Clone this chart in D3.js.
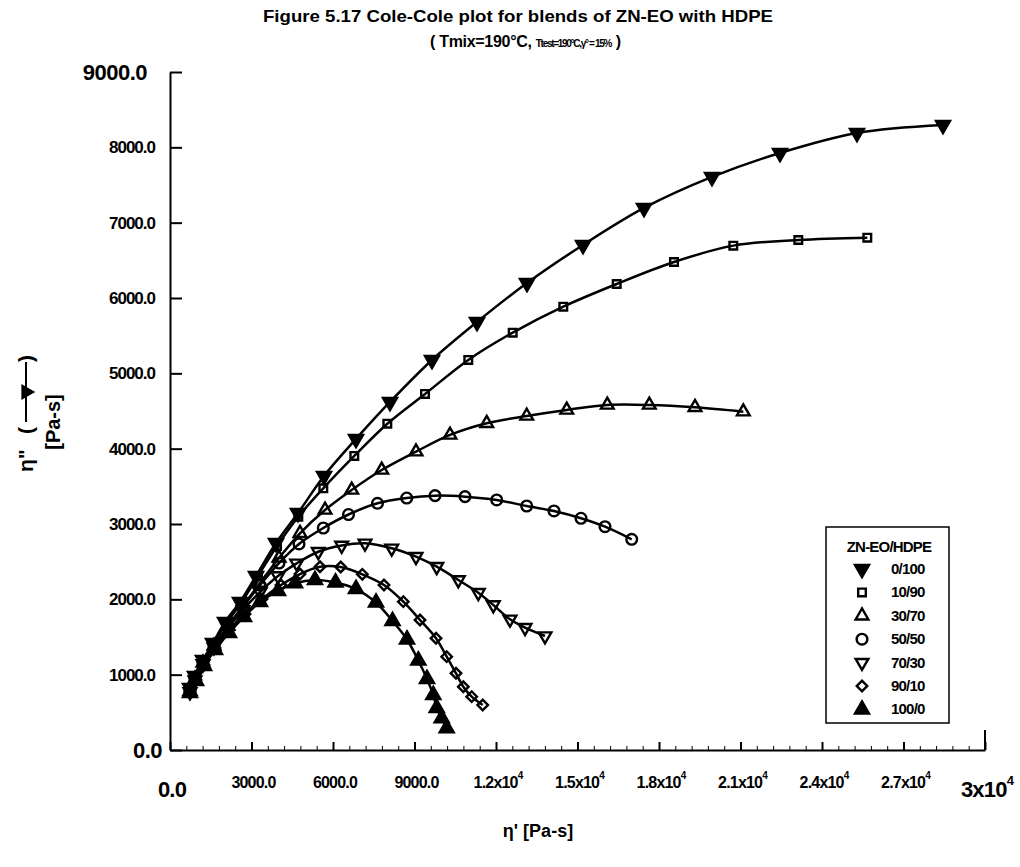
<!DOCTYPE html>
<html><head><meta charset="utf-8">
<script src="https://cdn.jsdelivr.net/npm/d3@7"></script>
<style>
body{margin:0;background:#fff;}
text{font-family:"Liberation Sans",Arial,sans-serif;fill:#000;}
</style></head>
<body>
<svg id="chart" width="1020" height="867"></svg>
<script>
// ---- data (η' [Pa-s], η" [Pa-s]) ----
const seriesNames = ["0/100","10/90","30/70","50/50","70/30","90/10","100/0"];
const s0_100 = [[736,823],[920,982],[1215,1195],[1583,1421],[2025,1699],[2577,1965],[3166,2310],[3902,2748],[4712,3146],[5669,3637],[6847,4129],[8098,4620],[9644,5177],[11301,5682],[13141,6199],[15203,6704],[17448,7195],[19951,7607],[22454,7925],[25288,8191],[28454,8297]];
const s10_90 = [[736,810],[920,969],[1215,1181],[1583,1407],[2061,1673],[2614,1951],[3239,2310],[3939,2708],[4723,3097],[5643,3474],[6784,3903],[7999,4331],[9387,4726],[10980,5178],[12615,5540],[14477,5885],[16443,6186],[18552,6478],[20735,6695],[23128,6770],[25668,6801]];
const s30_70 = [[736,783],[920,943],[1215,1155],[1620,1381],[2135,1646],[2687,1912],[3313,2217],[4012,2549],[4785,2877],[5706,3186],[6688,3452],[7793,3717],[9055,3960],[10307,4182],[11658,4337],[13130,4434],[14603,4514],[16097,4580],[17643,4580],[19325,4549],[21103,4491]];
const s50_50 = [[736,783],[920,943],[1215,1155],[1620,1381],[2135,1633],[2687,1898],[3313,2190],[4012,2482],[4749,2735],[5643,2947],[6571,3126],[7638,3275],[8713,3345],[9755,3376],[10859,3363],[12026,3319],[13130,3239],[14135,3173],[15129,3076],[16012,2964],[16995,2797]];
const s70_30 = [[736,770],[920,929],[1215,1142],[1620,1367],[2135,1620],[2687,1859],[3313,2097],[3975,2310],[4664,2478],[5459,2632],[6320,2715],[7178,2744],[8161,2678],[9055,2566],[9818,2433],[10613,2257],[11349,2088],[11901,1925],[12515,1735],[13068,1624],[13804,1513]];
const s90_10 = [[736,770],[957,929],[1252,1128],[1656,1354],[2172,1593],[2761,1805],[3387,2005],[4086,2190],[4785,2336],[5522,2433],[6284,2429],[7079,2332],[7877,2190],[8588,1969],[9203,1726],[9792,1483],[10185,1239],[10528,1018],[10797,840],[11106,708],[11511,597]];
const s100_0 = [[736,757],[957,916],[1252,1115],[1656,1328],[2172,1553],[2724,1766],[3313,1965],[3975,2111],[4601,2213],[5337,2257],[6092,2224],[6847,2137],[7583,1958],[8190,1712],[8724,1467],[9140,1188],[9460,943],[9692,730],[9818,558],[10001,421],[10185,288]];
const seriesData = [s0_100,s10_90,s30_70,s50_50,s70_30,s90_10,s100_0];
const yTicks = [0,1000,2000,3000,4000,5000,6000,7000,8000,9000];
const yTickLabels = ["0.0","1000.0","2000.0","3000.0","4000.0","5000.0","6000.0","7000.0","8000.0","9000.0"];
const xTicks = [0,3000,6000,9000,12000,15000,18000,21000,24000,27000,30000];
const xTickMant = ["0.0","3000.0","6000.0","9000.0","1.2x10","1.5x10","1.8x10","2.1x10","2.4x10","2.7x10","3x10"];
const xTickExp = ["","","","","4","4","4","4","4","4","4"];

const svg = d3.select("#chart");
const x = d3.scaleLinear().domain([0,30000]).range([170,985]);
const y = d3.scaleLinear().domain([0,9000]).range([750,72]);

// title
svg.append("text").attr("x",518).attr("y",22).attr("text-anchor","middle")
  .attr("font-size",17).attr("font-weight","bold")
  .attr("textLength",510).attr("lengthAdjust","spacingAndGlyphs")
  .text("Figure 5.17 Cole-Cole plot for blends of ZN-EO with HDPE");
const sub = svg.append("text").attr("x",430).attr("y",47).attr("font-size",16).attr("font-weight","bold");
sub.append("tspan").attr("letter-spacing",-0.3).text("( Tmix=190°C, ");
sub.append("tspan").attr("font-size",10).attr("letter-spacing",-1.3).text("Ttest=190°C,γ° = 15%");
sub.append("tspan").text(" )");

// axes
const gy = svg.append("g").attr("transform","translate(170,0)")
  .call(d3.axisLeft(y).tickValues(yTicks).tickSize(-12).tickSizeOuter(0).tickFormat(""));
const gx = svg.append("g").attr("transform","translate(0,750)")
  .call(d3.axisBottom(x).tickValues(xTicks).tickSize(-8).tickSizeOuter(0).tickFormat(""));
const minor = d3.range(0,30001,600).filter(v=>v%3000!==0);
svg.append("g").attr("transform","translate(0,750)")
  .call(d3.axisBottom(x).tickValues(minor).tickSize(-4).tickSizeOuter(0).tickFormat(""))
  .select(".domain").remove();
[gx,gy].forEach(g=>{g.selectAll("path,line").attr("stroke","#000").attr("stroke-width",2);});
svg.append("line").attr("x1",x(30000)).attr("x2",x(30000)).attr("y1",750).attr("y2",730).attr("stroke","#000").attr("stroke-width",2);

// y tick labels
yTicks.forEach((v,i)=>{
  const big = (v===0||v===9000);
  svg.append("text").attr("x", v===0?162:(v===9000?147:155)).attr("y",y(v)+(big?8:6))
    .attr("text-anchor","end").attr("font-size",big?22:17).attr("font-weight","bold")
    .attr("letter-spacing",big?-0.5:-1).text(yTickLabels[i]);
});
// x tick labels
xTicks.forEach((v,i)=>{
  const big = (v===0||v===30000);
  const t = svg.append("text").attr("y",big?797:788).attr("font-size",big?22:16)
    .attr("font-weight","bold").attr("letter-spacing",-0.8).attr("text-anchor","middle");
  t.append("tspan").text(xTickMant[i]);
  if(xTickExp[i]) t.append("tspan").attr("font-size",big?13:10).attr("dy",big?-12:-9).text(xTickExp[i]);
  t.attr("x", v===0?172:x(v)+2);
});

// axis titles
svg.append("text").attr("x",538).attr("y",837).attr("text-anchor","middle")
  .attr("font-size",18).attr("font-weight","bold").text("η' [Pa-s]");
const yl = svg.append("g").attr("transform","translate(33,472) rotate(-90)");
yl.append("text").attr("x",0).attr("y",0).attr("font-size",21).attr("font-weight","bold").text("η\"");
yl.append("text").attr("x",38).attr("y",0).attr("font-size",21).attr("font-weight","bold").text("(");
yl.append("line").attr("x1",50).attr("x2",110).attr("y1",-7).attr("y2",-7).attr("stroke","#000").attr("stroke-width",2);
yl.append("path").attr("d",d3.symbol(d3.symbolTriangle,110)()).attr("transform","translate(80,-7) rotate(180)").attr("fill","#000");
yl.append("text").attr("x",110).attr("y",0).attr("font-size",21).attr("font-weight","bold").text(")");
svg.append("text").attr("transform","translate(60,422) rotate(-90)").attr("text-anchor","middle")
  .attr("font-size",20).attr("font-weight","bold").text("[Pa-s]");

// marker definitions
const markers = [
  {type:d3.symbolTriangle,size:85,rot:180,fill:true},
  {type:d3.symbolSquare,size:58,rot:0,fill:false},
  {type:d3.symbolTriangle,size:70,rot:0,fill:false},
  {type:d3.symbolCircle,size:90,rot:0,fill:false},
  {type:d3.symbolTriangle,size:70,rot:180,fill:false},
  {type:d3.symbolSquare,size:55,rot:45,fill:false},
  {type:d3.symbolTriangle,size:85,rot:0,fill:true}
];
function drawMarker(g,m,cx,cy){
  g.append("path").attr("d",d3.symbol(m.type,m.size)())
   .attr("transform",`translate(${cx},${cy}) rotate(${m.rot})`)
   .attr("fill",m.fill?"#000":"none").attr("stroke","#000").attr("stroke-width",2.4);
}
const line = d3.line().x(d=>x(d[0])).y(d=>y(d[1])).curve(d3.curveCatmullRom);
seriesData.forEach((data,i)=>{
  const g = svg.append("g");
  g.append("path").attr("d",line(data)).attr("fill","none").attr("stroke","#000").attr("stroke-width",2.5);
  data.forEach(d=>drawMarker(g,markers[i],x(d[0]),y(d[1])));
});

// legend
svg.append("rect").attr("x",826).attr("y",527).attr("width",123).attr("height",196)
  .attr("fill","#fff").attr("stroke","#000").attr("stroke-width",1.5);
svg.append("text").attr("x",889).attr("y",552).attr("text-anchor","middle").attr("font-size",15)
  .attr("font-weight","bold").attr("letter-spacing",-0.8).text("ZN-EO/HDPE");
seriesNames.forEach((n,i)=>{
  const cy = 569 + i*23.4;
  drawMarker(svg,markers[i],862,cy);
  svg.append("text").attr("x",891).attr("y",cy+5).attr("font-size",15).attr("font-weight","bold")
    .attr("letter-spacing",-0.8).text(n);
});
</script>
</body></html>
